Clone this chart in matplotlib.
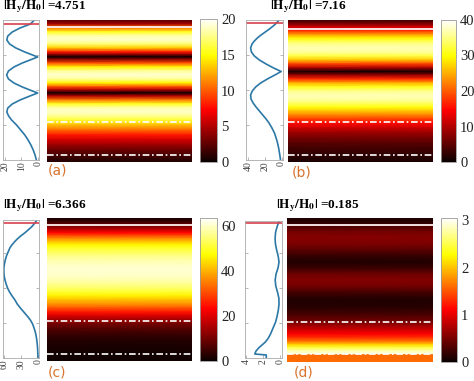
import numpy as np
import matplotlib
matplotlib.use('Agg')
import matplotlib.pyplot as plt

plt.rcParams['font.family'] = 'Liberation Serif'
plt.rcParams['mathtext.fontset'] = 'stix'

depth_a = [0, 4, 8, 12, 16, 20, 24, 28, 32, 35, 37, 39, 43, 47, 51, 55, 59, 63, 67, 70,
           73, 76, 80, 84, 88, 92, 96, 100, 105, 110, 115, 120, 125, 130, 135, 140, 142]
val_a = [2.2, 4.6, 10.9, 15.6, 18.3, 18.9, 17.2, 13.4, 8.0, 3.3, 0.2, 3.3, 9.5, 14.6, 17.9, 19.0,
         17.9, 14.6, 9.5, 4.9, 0.2, 4.9, 10.9, 15.6, 18.3, 18.9, 17.8, 16.0, 13.0, 10.5, 8.0,
         6.0, 4.3, 2.9, 1.8, 1.0, 0.8]

depth_b = [0, 3, 6, 9, 12, 15, 18, 21, 24, 28, 32, 36, 40, 44, 48, 51.5, 55, 59, 63, 67, 71,
           75, 79, 83, 87, 91, 95, 99, 103, 108, 113, 118, 123, 128, 133, 138, 142]
val_b = [3.0, 6.0, 10.0, 14.5, 19.5, 24.5, 29.0, 32.5, 35.3, 37.0, 36.0, 32.5, 26.5, 18.5, 9.5,
         0.5, 8.0, 17.0, 25.0, 31.0, 35.0, 37.0, 36.5, 34.0, 30.5, 26.5, 22.5, 18.5, 15.0,
         11.5, 8.5, 6.5, 4.8, 3.5, 2.5, 1.6, 1.0]

depth_c = [0, 3, 6, 9, 12, 15, 18, 21, 24, 27, 30, 34, 38, 42, 46, 50, 54, 58, 62, 66, 70,
           74, 78, 82, 86, 90, 94, 98, 102, 106, 110, 114, 118, 122, 126, 130, 135, 140, 143]
val_c = [1.5, 3.5, 7.5, 12.0, 18.0, 24.0, 31.0, 37.0, 42.0, 46.5, 50.0, 53.0, 56.0, 58.0, 59.5,
         60.5, 60.5, 60.0, 58.5, 56.5, 54.0, 50.5, 46.0, 41.0, 37.0, 31.5, 25.5, 19.5, 14.0,
         10.0, 7.5, 5.3, 3.8, 2.7, 1.9, 1.3, 0.9, 0.6, 0.5]

depth_d = [0, 4, 8, 14, 20, 26, 32, 38, 44, 50, 56, 62, 68, 74, 80, 86, 92, 98, 104, 108,
           112, 116, 120, 124, 127, 130, 133, 136, 137, 144]
val_d = [0.1, 0.12, 0.3, 0.5, 0.56, 0.52, 0.38, 0.2, 0.1, 0.22, 0.45, 0.55, 0.48, 0.28,
         0.12, 0.1, 0.18, 0.32, 0.5, 0.7, 0.9, 1.1, 1.35, 1.7, 2.1, 2.5, 2.8, 2.95, 1.6, 1.6]

titles = ['4.751', '7.16', '6.366', '0.185']
labels = ['(a)', '(b)', '(c)', '(d)']
vmaxes = [20, 40, 63.5, 3.05]
cbar_ticks = [[0, 5, 10, 15, 20], [0, 10, 20, 30, 40], [0, 20, 40, 60], [0, 1, 2, 3]]
line_ticks = [[20, 10, 0], [40, 20, 0], [60, 30, 0], [4, 2, 0]]
line_xlims = [(21.2, -0.6), (42.5, -1.7), (62, -1.2), (4.1, -0.25)]

W, H = 474, 381


def box(x0, y0, x1, y1):
    return [x0 / W, 1 - y1 / H, (x1 - x0) / W, (y1 - y0) / H]


fig = plt.figure(figsize=(W / 100, H / 100), dpi=100)

layout = [
    # line box, heat box, cbar box, line ylim, heat ylim, red y, white y, dashes, title xy, label xy
    ((3, 20, 39, 160), (47, 20, 192, 162), (200, 19, 217, 162), (140, 0), (142, 0), 4, 7, (102, 135), (3, 7), (48, 171)),
    ((246, 20, 283, 160), (288, 20, 433, 162), (441, 20, 456, 162), (140, 0), (142, 0), 3.3, 9.3, (102, 135), (270, 7), (292, 173)),
    ((3, 220, 39, 358), (47, 218, 192, 361), (200, 218, 217, 361), (140, 2), (143, 0), 5.3, 7, (103, 136), (3, 206), (48, 372)),
    ((245, 221, 282, 358), (287, 218, 433, 362), (441, 218, 457, 362), (140, 3), (144, 0), 5.3, 7, (104, 136), (276, 206), (294, 372)),
]

depths = [depth_a, depth_b, depth_c, depth_d]
vals = [val_a, val_b, val_c, val_d]

for i in range(4):
    lb, hb, cbb, lyl, hyl, red_y, white_y, dashes, txy, lxy = layout[i]
    depth = np.array(depths[i], dtype=float)
    val = np.array(vals[i], dtype=float)

    # profile panel
    ax = fig.add_axes(box(*lb))
    ax.plot(val, depth, color='#2b78a6', lw=1.2)
    ax.axhline(red_y, color='#d8414e', lw=1.2)
    ax.set_xlim(line_xlims[i])
    ax.set_ylim(lyl)
    ax.set_xticks(line_ticks[i])
    ax.set_xticklabels([str(t) for t in line_ticks[i]], rotation=90, fontsize=7, color='#444444')
    ax.set_yticks([lyl[0] * 0.25, lyl[0] * 0.5, lyl[0] * 0.75])
    ax.set_yticklabels([])
    ax.tick_params(direction='in', length=2, width=0.5, color='#999999', pad=1, right=True)
    for s in ax.spines.values():
        s.set_color('#aaaaaa')
        s.set_linewidth(0.6)

    # field map
    hx = fig.add_axes(box(*hb))
    X, Y = np.meshgrid([0, 1], depth)
    C = np.column_stack([val, val])
    mesh = hx.pcolormesh(X, Y, C, shading='gouraud', cmap='hot', vmin=0, vmax=vmaxes[i])
    hx.set_xlim(0, 1)
    hx.set_ylim(hyl)
    hx.axhline(white_y, color='#fff2f2', lw=1.3)
    for d in dashes:
        hx.axhline(d, color='white', lw=1.2, linestyle=(0, (4, 1.6, 1, 1.6)))
    hx.set_xticks([])
    hx.set_yticks([])
    for s in hx.spines.values():
        s.set_visible(False)

    # colorbar
    cax = fig.add_axes(box(*cbb))
    cb = fig.colorbar(mesh, cax=cax, ticks=cbar_ticks[i])
    cb.outline.set_linewidth(0.6)
    cb.outline.set_edgecolor('#999999')
    cax.tick_params(labelsize=10.5, length=0, pad=3)
    for t in cax.get_yticklabels():
        t.set_fontfamily('Liberation Serif')
        t.set_color('#222222')

    fig.text(txy[0] / W, 1 - txy[1] / H, r'$\mathbf{|H_y/H_0|}$ =' + titles[i],
             fontsize=9.5, fontweight='bold', ha='left', va='center')
    fig.text(lxy[0] / W, 1 - lxy[1] / H, labels[i], fontsize=10, color='#d9732f',
             family='DejaVu Sans', ha='left', va='center')

fig.savefig('out.png', dpi=100)
